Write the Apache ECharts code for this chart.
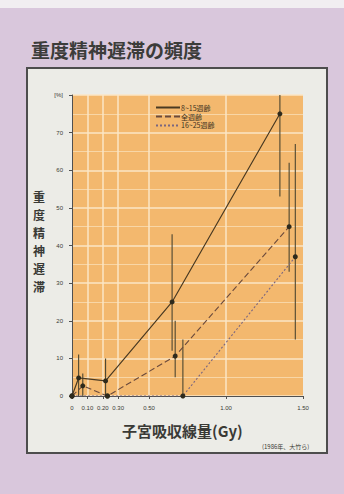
<!DOCTYPE html>
<html>
<head>
<meta charset="utf-8">
<script src="https://cdn.jsdelivr.net/npm/echarts@6/dist/echarts.min.js"></script>
<style>
  html, body { margin: 0; padding: 0; background: #d9c7dc; }
  #chart { width: 344px; height: 494px; }
</style>
</head>
<body>
<div id="chart"></div>
<script>
// Tick positions on the dose axis (Gy) and rate axis (%)
const doseTicks = [0, 0.1, 0.2, 0.3, 0.5, 1.0, 1.5];
const doseTickLabels = ['0', '0.10', '0.20', '0.30', '0.50', '1.00', '1.50'];
const doseGridLines = [0.1, 0.2, 0.3, 0.5, 1.0];

// Series names
const seriesNames = ['8~15週齢', '全週齢', '16~25週齢'];

// 8~15 weeks
const dose815 = [0, 0.043, 0.218, 0.65, 1.35];
const rate815 = [0, 4.8, 4, 25, 75];
const low815  = [null, 0, 0, 12, 53];
const high815 = [null, 11, 10, 43, 80];

// all gestational ages
const doseAll = [0, 0.07, 0.23, 0.67, 1.41];
const rateAll = [0, 2.7, 0, 10.6, 45];
const lowAll  = [null, 0, null, 5, 33];
const highAll = [null, 6, null, 20, 62];

// 16~25 weeks
const dose1625 = [0, 0.23, 0.72, 1.45];
const rate1625 = [0, 0, 0, 37];
const low1625  = [null, null, 0, 15];
const high1625 = [null, null, 15, 67];

const pairs = (xs, ys) => xs.map((x, i) => [x, ys[i]]);
const bars = (xs, lo, hi) => xs.map((x, i) => [x, lo[i], hi[i]]).filter(d => d[1] !== null);

const lineColors = ['#4a3a22', '#6b4a3c', '#7a6680'];
const barColor = '#4c4630';

function errorBars(name, data) {
  return {
    type: 'custom',
    name: name,
    data: data,
    z: 3,
    silent: true,
    clip: true,
    renderItem: function (params, api) {
      const top = api.coord([api.value(0), api.value(2)]);
      const bot = api.coord([api.value(0), api.value(1)]);
      return {
        type: 'line',
        shape: { x1: top[0], y1: top[1], x2: bot[0], y2: bot[1] },
        style: { stroke: barColor, lineWidth: 1.1 }
      };
    }
  };
}

const chart = echarts.init(document.getElementById('chart'), null, { renderer: 'svg' });

chart.setOption({
  animation: false,
  backgroundColor: '#d9c7dc',
  graphic: [
    { type: 'rect', z: -10, shape: { x: 0, y: 0, width: 344, height: 8 }, style: { fill: '#f1eef1' } },
    { type: 'rect', z: -9, shape: { x: 27, y: 68, width: 300, height: 385 },
      style: { fill: '#ecece7', stroke: '#4d4d4d', lineWidth: 2 } },
    { type: 'rect', z: -8, shape: { x: 72, y: 95, width: 231, height: 301 },
      style: { fill: '#f3b86e' } },
    { type: 'text', left: 31, top: 40,
      style: { text: '重度精神遅滞の頻度', font: 'bold 19px "Noto Sans CJK JP"', fill: '#3c3c3a' } },
    { type: 'text', left: 33, top: 187,
      style: { text: '重\n度\n精\n神\n遅\n滞', font: 'bold 12px "Noto Sans CJK JP"', lineHeight: 18, fill: '#3a3a36' } },
    { type: 'text', left: 122, top: 423,
      style: { text: '子宮吸収線量(Gy)', font: 'bold 15px "Noto Sans CJK JP"', fill: '#3a3a36' } },
    { type: 'text', left: 262, top: 443,
      style: { text: '(1986年、大竹ら)', font: '6px "Noto Sans CJK JP"', fill: '#3a3a36' } }
  ],
  grid: { left: 72, top: 95, width: 231, height: 301, containLabel: false },
  legend: {
    left: 150, top: 99, orient: 'vertical', itemGap: 2,
    itemWidth: 24, itemHeight: 8,
    itemStyle: { opacity: 0 },
    textStyle: { fontSize: 7, color: '#3a3020', fontFamily: 'Noto Sans CJK JP', padding: [0, 0, 0, -4] },
    data: seriesNames
  },
  xAxis: {
    type: 'value', min: 0, max: 1.5, offset: 4,
    axisLine: { lineStyle: { color: '#505050', width: 1 } },
    axisTick: { customValues: doseTicks, length: 3, lineStyle: { color: '#505050' } },
    axisLabel: {
      customValues: doseTicks, fontSize: 6, color: '#3a3a36', margin: 5,
      formatter: v => doseTickLabels[doseTicks.indexOf(Math.round(v * 100) / 100)] ?? ''
    },
    splitLine: { show: false }
  },
  yAxis: {
    type: 'value', min: 0, max: 80, interval: 10, offset: 4,
    axisLine: { show: true, lineStyle: { color: '#505050', width: 1 } },
    axisTick: { show: true, length: 3, lineStyle: { color: '#505050' } },
    axisLabel: { fontSize: 6, color: '#3a3a36', margin: 5,
      formatter: v => (v === 80 ? '[%]' : String(v)) },
    splitLine: { show: true, lineStyle: { color: '#fbe6c6', width: 1.5 } },
    minorTick: { show: false, splitNumber: 2 },
    minorSplitLine: { show: true, lineStyle: { color: '#f8d6a6', width: 1 } }
  },
  series: [
    {
      name: seriesNames[0], type: 'line', data: pairs(dose815, rate815), z: 5,
      symbol: 'circle', symbolSize: 5,
      lineStyle: { color: lineColors[0], width: 1.2, type: 'solid' },
      itemStyle: { color: '#2e2a1c' },
      markLine: {
        silent: true, symbol: 'none', z: 1, label: { show: false },
        lineStyle: { color: '#fbe6c6', width: 1.5, type: 'solid' },
        data: doseGridLines.map(v => ({ xAxis: v }))
      }
    },
    {
      name: seriesNames[1], type: 'line', data: pairs(doseAll, rateAll), z: 5,
      symbol: 'circle', symbolSize: 5,
      lineStyle: { color: lineColors[1], width: 1.1, type: [6, 3] },
      itemStyle: { color: '#2e2a1c' }
    },
    {
      name: seriesNames[2], type: 'line', data: pairs(dose1625, rate1625), z: 5,
      symbol: 'circle', symbolSize: 5,
      lineStyle: { color: lineColors[2], width: 1.1, type: [2, 2] },
      itemStyle: { color: '#2e2a1c' }
    },
    errorBars('e815', bars(dose815, low815, high815)),
    errorBars('eAll', bars(doseAll, lowAll, highAll)),
    errorBars('e1625', bars(dose1625, low1625, high1625))
  ]
});
</script>
</body>
</html>
